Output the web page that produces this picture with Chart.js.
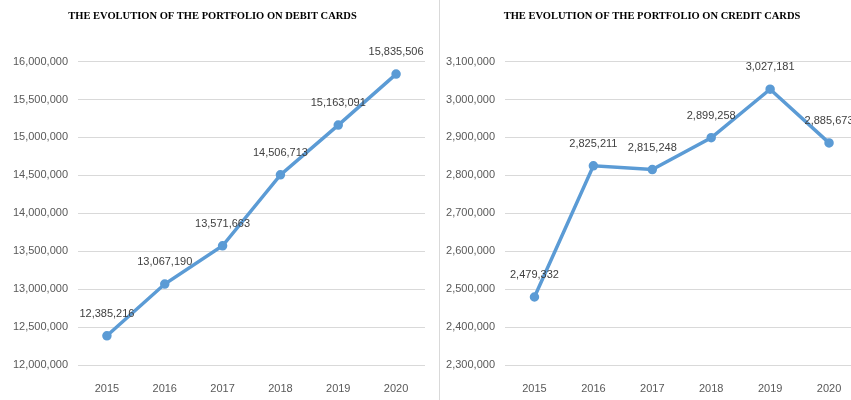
<!DOCTYPE html>
<html>
<head>
<meta charset="utf-8">
<script src="https://cdn.jsdelivr.net/npm/chart.js"></script>
<style>
  html, body { margin:0; padding:0; background:#ffffff; }
  body { width:851px; height:400px; overflow:hidden; position:relative; }
  #left_box { position:absolute; left:0; top:0; width:437px; height:400px; }
  #right_box { position:absolute; left:440px; top:0; width:426px; height:400px; }
  #divider { position:absolute; left:439px; top:0; width:1px; height:400px; background:#d9d9d9; }
</style>
</head>
<body>
<div id="left_box"><canvas id="graph_debit" width="437" height="400"></canvas></div>
<div id="divider"></div>
<div id="right_box"><canvas id="graph_credit" width="426" height="400"></canvas></div>
<script>
// years on the x axis
const years = ['2015', '2016', '2017', '2018', '2019', '2020'];

// portfolio of debit cards
const debitCards = [12385216, 13067190, 13571663, 14506713, 15163091, 15835506];
// portfolio of credit cards
const creditCards = [2479332, 2825211, 2815248, 2899258, 3027181, 2885673];

const debitTitle = 'THE EVOLUTION OF THE PORTFOLIO ON DEBIT CARDS';
const creditTitle = 'THE EVOLUTION OF THE PORTFOLIO ON CREDIT CARDS';

const lineBlue = '#5b9bd5';
const tickFont = { family: '"Liberation Sans", Arial, sans-serif', size: 11 };

// writes the value above every point
const valueLabels = {
    id: 'valueLabels',
    afterDatasetsDraw(chart) {
        const ctx = chart.ctx;
        const meta = chart.getDatasetMeta(0);
        const values = chart.data.datasets[0].data;
        ctx.save();
        ctx.font = '11px "Liberation Sans", Arial, sans-serif';
        ctx.fillStyle = '#404040';
        ctx.textAlign = 'center';
        ctx.textBaseline = 'middle';
        meta.data.forEach((pt, i) => {
            ctx.fillText(values[i].toLocaleString('en-US'), pt.x, pt.y - 22);
        });
        ctx.restore();
    }
};

function makeChart(canvasId, title, values, yMin, yMax, yStep, axisWidth, rightPad) {
    let graph = document.getElementById(canvasId).getContext('2d');
    return new Chart(graph, {
        type: 'line',
        data: {
            labels: years,
            datasets: [{
                data: values,
                borderColor: lineBlue,
                backgroundColor: lineBlue,
                borderWidth: 3.5,
                pointRadius: 3,
                pointBackgroundColor: lineBlue,
                pointBorderColor: lineBlue,
                tension: 0
            }]
        },
        options: {
            responsive: false,
            animation: false,
            layout: {
                padding: { left: 0, right: rightPad, top: 0, bottom: 0 }
            },
            scales: {
                x: {
                    offset: true,
                    afterFit(axis) { axis.height = 35; },
                    grid: { display: false, drawTicks: false },
                    border: { display: false },
                    ticks: { color: '#595959', font: tickFont, padding: 17 }
                },
                y: {
                    min: yMin,
                    max: yMax,
                    afterFit(axis) { axis.width = axisWidth; },
                    grid: { color: '#d9d9d9', drawTicks: false },
                    border: { display: false },
                    ticks: {
                        stepSize: yStep,
                        color: '#595959',
                        font: tickFont,
                        padding: 10,
                        callback: (v) => v.toLocaleString('en-US')
                    }
                }
            },
            plugins: {
                legend: { display: false },
                tooltip: { enabled: false },
                title: {
                    display: true,
                    text: title,
                    color: '#000000',
                    font: { family: '"Liberation Serif", serif', size: 10.5, weight: 'bold' },
                    padding: { top: 10, bottom: 39 }
                }
            }
        },
        plugins: [valueLabels]
    });
}

makeChart('graph_debit', debitTitle, debitCards, 12000000, 16000000, 500000, 78, 12);
makeChart('graph_credit', creditTitle, creditCards, 2300000, 3100000, 100000, 65, 2);
</script>
</body>
</html>
